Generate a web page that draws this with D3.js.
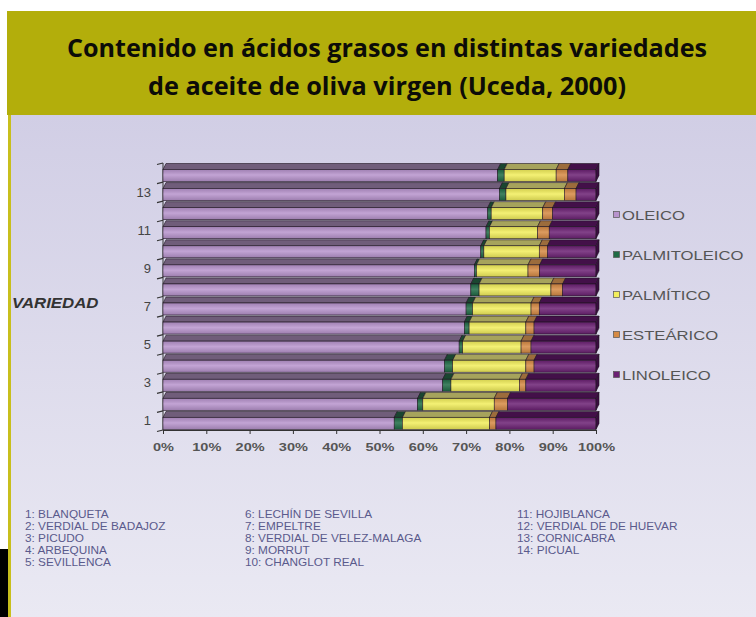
<!DOCTYPE html>
<html>
<head>
<meta charset="utf-8">
<script src="https://cdn.jsdelivr.net/npm/d3@7"></script>
<style>
  body { margin: 0; background: #fff; }
  svg { display: block; }
</style>
</head>
<body>
<div id="chart"></div>
<script>
// data (percent of total fatty acids)
const varieties = ["1", "2", "3", "4", "5", "6", "7", "8", "9", "10", "11", "12", "13", "14"];
const oleico       = [53.4, 58.8, 64.6, 65.0, 68.4, 69.6, 70.0, 71.1, 71.9, 73.4, 74.6, 75.0, 77.7, 77.3];
const palmitoleico = [1.9, 1.2, 1.9, 1.9, 0.8, 1.1, 1.5, 1.9, 0.5, 0.7, 0.8, 0.8, 1.5, 1.5];
const palmitico    = [20.1, 16.5, 15.8, 16.9, 13.5, 13.1, 13.5, 16.6, 11.9, 12.8, 11.1, 11.9, 13.5, 12.0];
const estearico    = [1.5, 3.1, 1.5, 1.9, 2.3, 1.9, 1.9, 2.7, 2.7, 1.9, 2.7, 2.3, 2.7, 2.7];
const linoleico    = [23.1, 20.4, 16.2, 14.3, 15.0, 14.3, 13.1, 7.7, 13.0, 11.2, 10.8, 10.0, 4.6, 6.5];

const acidNames = ["OLEICO", "PALMITOLEICO", "PALMÍTICO", "ESTEÁRICO", "LINOLEICO"];
const xTickValues = [0, 0.1, 0.2, 0.3, 0.4, 0.5, 0.6, 0.7, 0.8, 0.9, 1];
const yLabelValues = ["1", "3", "5", "7", "9", "11", "13"];
const titleLines = ["Contenido en ácidos grasos en distintas variedades", "de aceite de oliva virgen (Uceda, 2000)"];
const varietyNames = [
  ["1: BLANQUETA", "2: VERDIAL DE BADAJOZ", "3: PICUDO", "4: ARBEQUINA", "5: SEVILLENCA"],
  ["6: LECHÍN DE SEVILLA", "7: EMPELTRE", "8: VERDIAL DE VELEZ-MALAGA", "9: MORRUT", "10: CHANGLOT REAL"],
  ["11: HOJIBLANCA", "12: VERDIAL DE DE HUEVAR", "13: CORNICABRA", "14: PICUAL"]
];

const width = 756, height = 617;
const front = ["#b894cd", "#1f6b45", "#f2ee5c", "#d68a44", "#6c2174"];
const top_ = ["#705d7a", "#1a4630", "#a6a35c", "#9c6c3c", "#431049"];
const side = "#3a0c40";
const depthX = 3, depthY = 6, faceH = 12;

const svg = d3.select("#chart").append("svg")
  .attr("width", width)
  .attr("height", height);

const defs = svg.append("defs");
const grad = defs.append("linearGradient")
  .attr("id", "panelGrad")
  .attr("x1", 0).attr("y1", 0).attr("x2", 0).attr("y2", 1);
grad.append("stop").attr("offset", "0%").attr("stop-color", "#d1cee5");
grad.append("stop").attr("offset", "100%").attr("stop-color", "#eae9f3");

const shine = defs.append("linearGradient")
  .attr("id", "shine")
  .attr("x1", 0).attr("y1", 0).attr("x2", 0).attr("y2", 1);
shine.append("stop").attr("offset", "0%").attr("stop-color", "#000").attr("stop-opacity", 0.12);
shine.append("stop").attr("offset", "45%").attr("stop-color", "#fff").attr("stop-opacity", 0.15);
shine.append("stop").attr("offset", "100%").attr("stop-color", "#000").attr("stop-opacity", 0.15);

// background: header band + lavender panel
svg.append("rect").attr("x", 7).attr("y", 11).attr("width", width - 7).attr("height", 104).attr("fill", "#b3ae0b");
svg.append("rect").attr("x", 8).attr("y", 115).attr("width", width - 8).attr("height", height - 115).attr("fill", "url(#panelGrad)");
svg.append("rect").attr("x", 8).attr("y", 115).attr("width", 3).attr("height", height - 115).attr("fill", "#c8bf1c");
svg.append("rect").attr("x", 0).attr("y", 549).attr("width", 8).attr("height", height - 549).attr("fill", "#000");

svg.append("g").selectAll("text")
  .data(titleLines)
  .join("text")
  .attr("x", 387)
  .attr("y", (d, i) => 57 + i * 38)
  .attr("text-anchor", "middle")
  .attr("font-family", "'Open Sans', 'DejaVu Sans', sans-serif")
  .attr("font-weight", "bold")
  .attr("font-size", 25)
  .attr("fill", "#0c0c08")
  .attr("textLength", (d, i) => i === 0 ? 640 : 478)
  .attr("lengthAdjust", "spacingAndGlyphs")
  .text(d => d);

// scales
const x = d3.scaleLinear().domain([0, 1]).range([163, 596]);
const y = d3.scaleBand().domain(varieties.slice().reverse()).range([163, 430]);

const rows = varieties.map((v, i) => ({
  variety: v,
  OLEICO: oleico[i],
  PALMITOLEICO: palmitoleico[i],
  "PALMÍTICO": palmitico[i],
  "ESTEÁRICO": estearico[i],
  LINOLEICO: linoleico[i]
}));
const series = d3.stack().keys(acidNames).offset(d3.stackOffsetExpand)(rows);

// y axis line and tick marks at band edges
const edges = varieties.map(v => y(v)).concat([y.range()[1]]);
const axisG = svg.append("g").attr("class", "yAxis");
axisG.append("line")
  .attr("x1", x(0)).attr("x2", x(0))
  .attr("y1", y.range()[0]).attr("y2", y.range()[1])
  .attr("stroke", "#333");
axisG.selectAll(".tk").data(edges).join("line")
  .attr("class", "tk")
  .attr("x1", x(0)).attr("x2", x(0) - 6)
  .attr("y1", d => d).attr("y2", d => d + 1.5)
  .attr("stroke", "#333").attr("stroke-width", 1.2);

// bars
const barG = svg.append("g");
varieties.forEach((v, i) => {
  const y0 = y(v) + depthY + 0.5;
  const g = barG.append("g");
  series.forEach((s, k) => {
    const a = x(s[i][0]), b = x(s[i][1]);
    g.append("path")
      .attr("d", `M${a},${y0} L${b},${y0} L${b + depthX},${y0 - depthY} L${a + depthX},${y0 - depthY} Z`)
      .attr("fill", top_[k])
      .attr("stroke", "#1e1420").attr("stroke-width", 0.6);
    g.append("rect")
      .attr("x", a).attr("y", y0)
      .attr("width", Math.max(0, b - a)).attr("height", faceH)
      .attr("fill", front[k])
      .attr("stroke", "#1e1420").attr("stroke-width", 0.6);
    g.append("rect")
      .attr("x", a).attr("y", y0)
      .attr("width", Math.max(0, b - a)).attr("height", faceH)
      .attr("fill", "url(#shine)");
  });
  const e = x(1);
  g.append("path")
    .attr("d", `M${e},${y0} L${e + depthX},${y0 - depthY} L${e + depthX},${y0 + faceH - depthY} L${e},${y0 + faceH} Z`)
    .attr("fill", side)
    .attr("stroke", "#1e1420").attr("stroke-width", 0.6);
});

// y labels (odd varieties only)
svg.append("g").selectAll("text")
  .data(yLabelValues)
  .join("text")
  .attr("x", 151)
  .attr("y", d => y(d) + y.bandwidth() / 2 + 5)
  .attr("text-anchor", "end")
  .attr("font-family", "'Liberation Sans', Arial, sans-serif")
  .attr("font-size", 13)
  .attr("fill", "#444")
  .text(d => d);

svg.append("text")
  .attr("transform", "translate(12,308) scale(1.2,1)")
  .attr("font-family", "'Liberation Sans', Arial, sans-serif")
  .attr("font-weight", "bold")
  .attr("font-style", "italic")
  .attr("font-size", 14)
  .attr("fill", "#333")
  .text("VARIEDAD");

// x axis
const xAxis = d3.axisBottom(x)
  .tickValues(xTickValues)
  .tickFormat(d3.format(".0%"))
  .tickSizeInner(4)
  .tickSizeOuter(0)
  .tickPadding(9);
const xg = svg.append("g")
  .attr("class", "xAxis")
  .attr("transform", "translate(0,430)")
  .call(xAxis);
xg.select(".domain").attr("stroke", "#333");
xg.selectAll(".tick line").attr("stroke", "#333");
xg.selectAll(".tick text")
  .attr("font-family", "'Liberation Sans', Arial, sans-serif")
  .attr("font-weight", "bold")
  .attr("font-size", 11)
  .attr("fill", "#555")
  .attr("transform", "scale(1.32,1)");

// legend
const legend = svg.append("g").attr("transform", "translate(613,0)");
const legY = d3.scalePoint().domain(acidNames).range([215, 375]);
legend.selectAll("rect")
  .data(acidNames)
  .join("rect")
  .attr("x", 0.5)
  .attr("y", d => legY(d) - 3.5)
  .attr("width", 6).attr("height", 6)
  .attr("fill", (d, i) => front[i])
  .attr("stroke", "#555").attr("stroke-width", 0.7);
legend.selectAll("text")
  .data(acidNames)
  .join("text")
  .attr("transform", d => `translate(9,${legY(d) + 5}) scale(1.28,1)`)
  .attr("font-family", "'Liberation Sans', Arial, sans-serif")
  .attr("font-size", 13)
  .attr("fill", "#555")
  .text(d => d);

// variety key at the bottom
const colX = [25, 245, 517];
varietyNames.forEach((col, c) => {
  svg.append("g").selectAll("text")
    .data(col)
    .join("text")
    .attr("transform", (d, i) => `translate(${colX[c]},${518 + i * 12}) scale(1.18,1)`)
    .attr("font-family", "'Liberation Sans', Arial, sans-serif")
    .attr("font-size", 10)
    .attr("fill", "#5a5a8c")
    .text(d => d);
});
</script>
</body>
</html>
